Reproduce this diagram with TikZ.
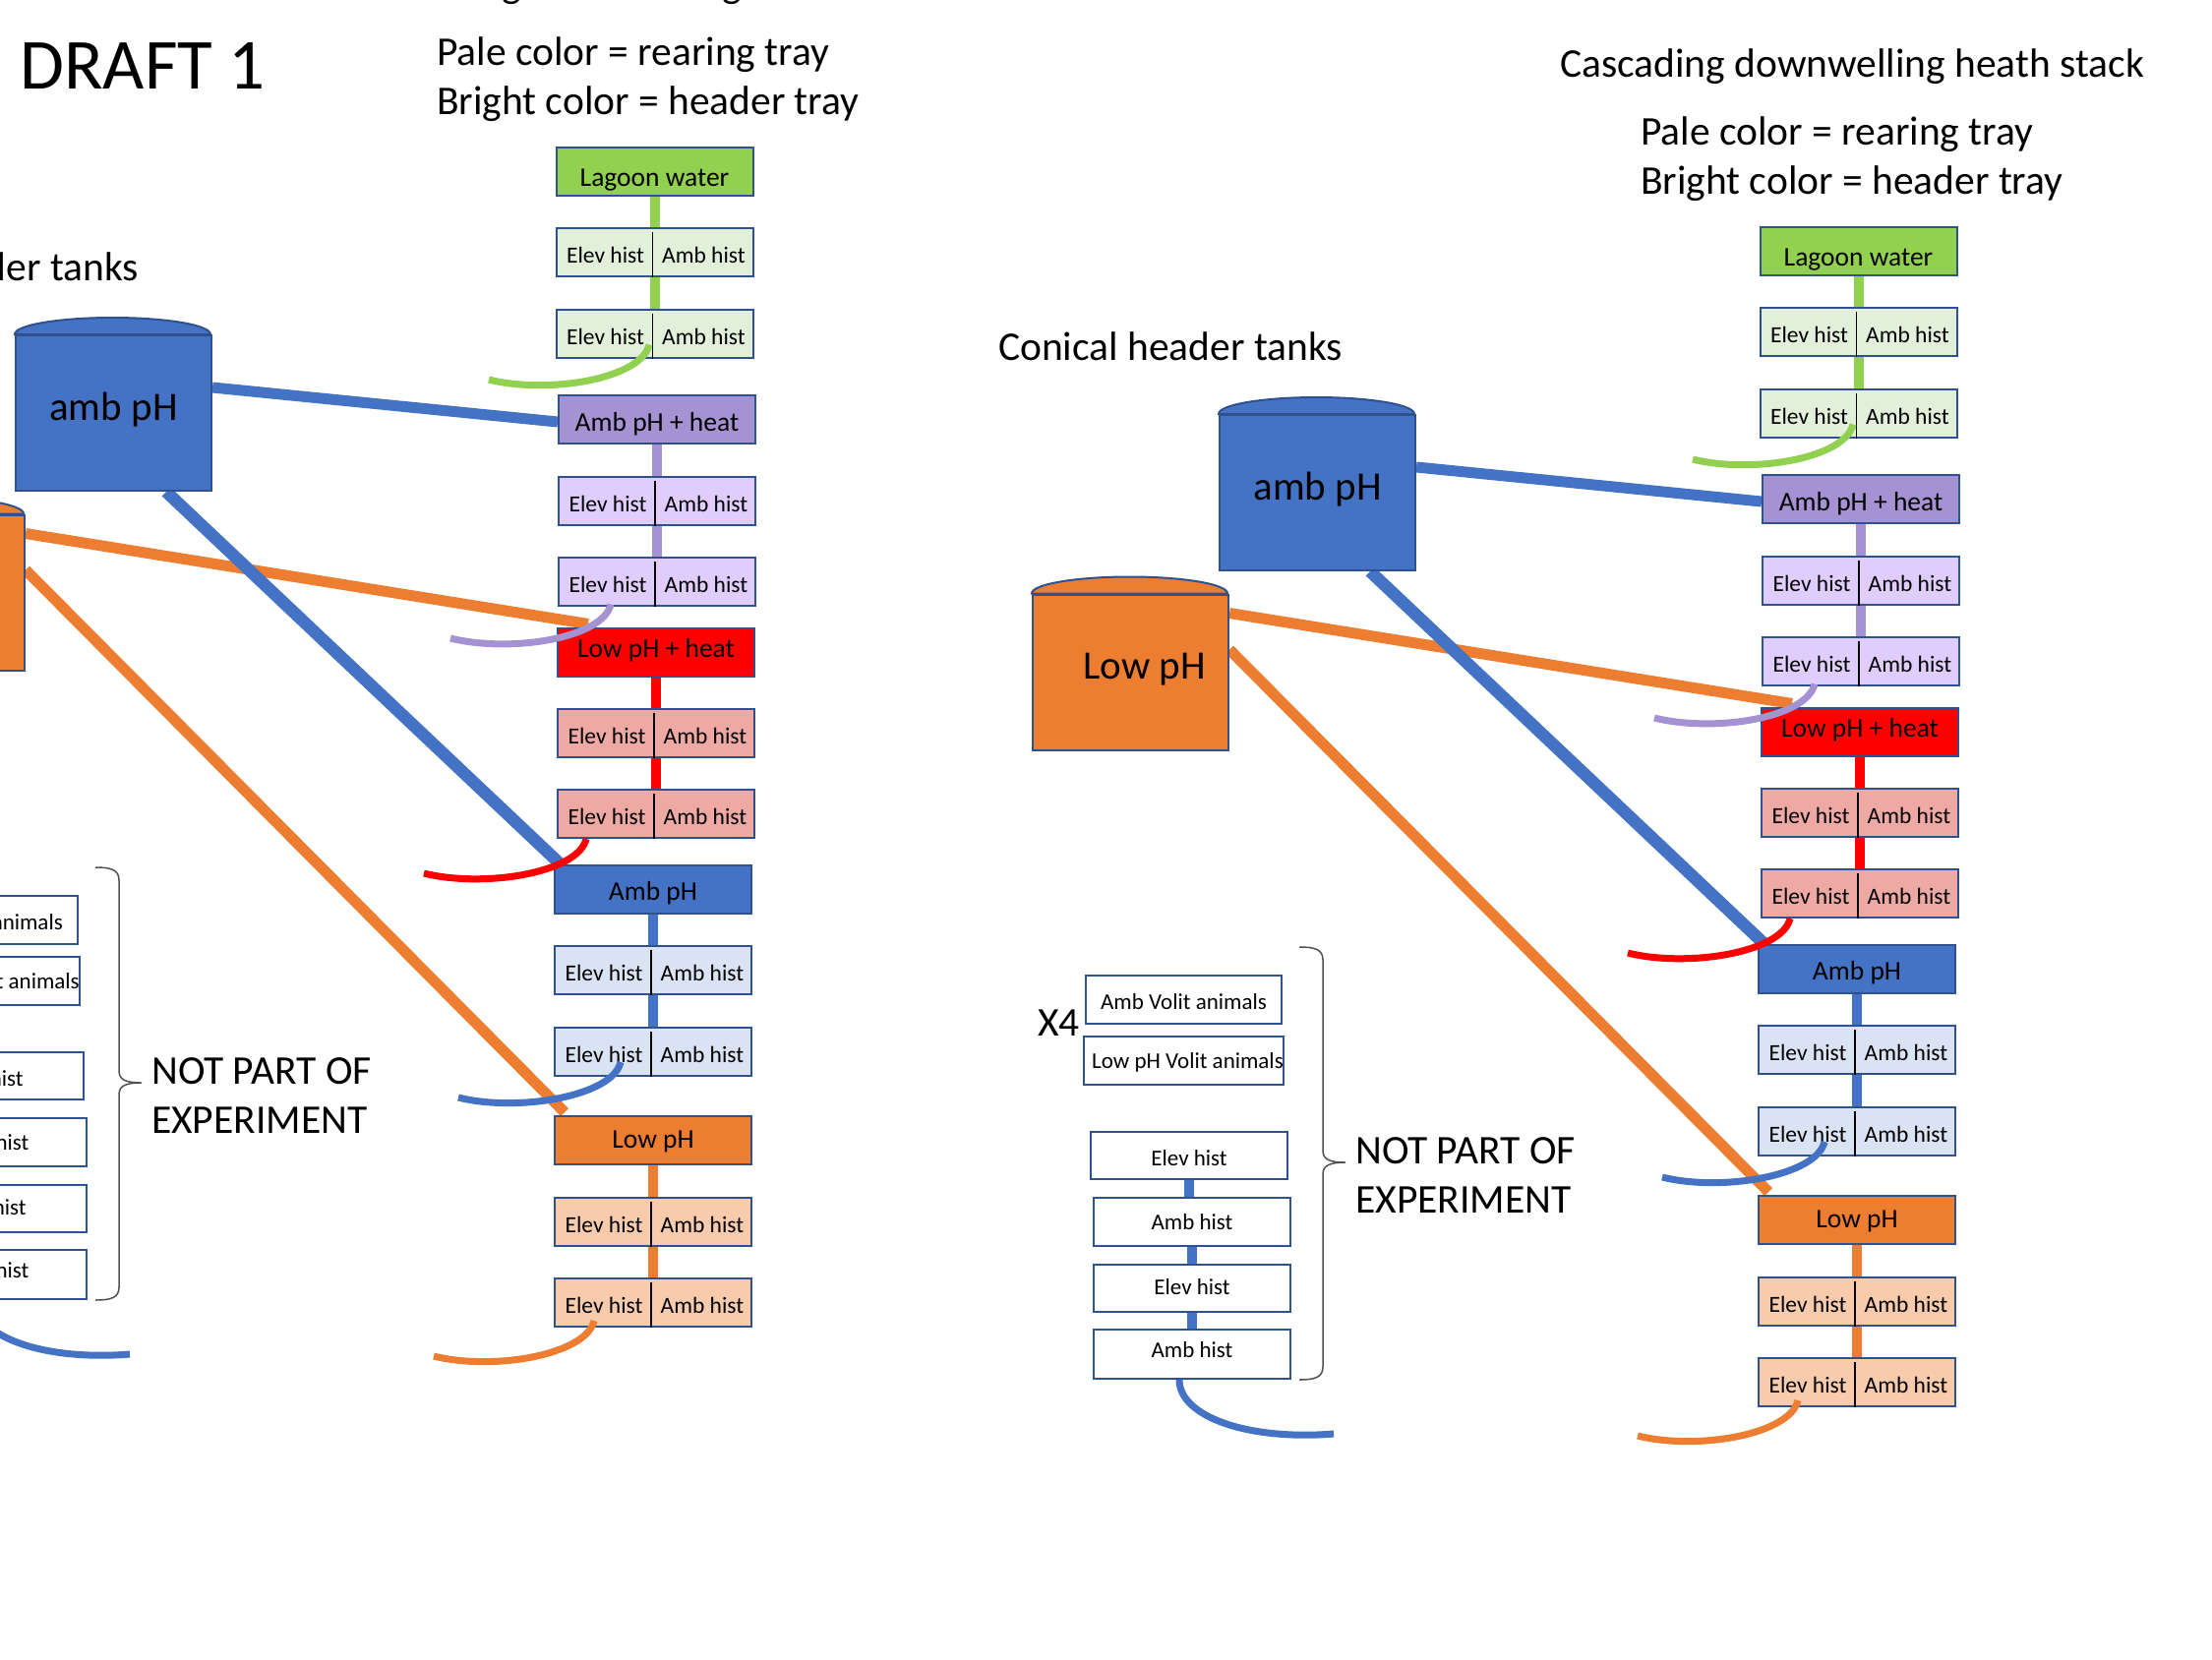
\documentclass[tikz,border=0pt]{standalone}
\usepackage{fontspec}
\setmainfont{Carlito}
\pgfdeclarelayer{back}
\pgfdeclarelayer{bg}
\pgfsetlayers{back,bg,main}
\definecolor{outl}{HTML}{2F528F}
\definecolor{lgreen}{HTML}{92D050}
\definecolor{pgreen}{HTML}{E2EFDA}
\definecolor{lpurple}{RGB}{165,146,210}
\definecolor{ppurple}{RGB}{224,204,253}
\definecolor{lred}{HTML}{FF0000}
\definecolor{pred}{RGB}{239,169,165}
\definecolor{lblue}{HTML}{4472C4}
\definecolor{pblue}{HTML}{DAE3F3}
\definecolor{lorange}{HTML}{ED7D31}
\definecolor{porange}{HTML}{F8CBAD}
\definecolor{bracegray}{HTML}{505050}

\newcommand\elevamb{\makebox[100pt]{Elev hist}\makebox[100pt]{Amb hist}}
\newcommand\bigtxt{\fontsize{41.5}{50}\selectfont}

\tikzset{
  tray/.style={draw=outl, line width=2pt, minimum width=200pt, minimum height=49pt, inner sep=0pt, text depth=0pt},
  header/.style 2 args={tray, fill=#1, text height=#2, font=\fontsize{27.5}{32}\selectfont},
  rear/.style={tray, fill=#1, text height=22pt, font=\fontsize{23.5}{28}\selectfont},
  spare/.style={tray, fill=white, text height=#1, font=\fontsize{23}{28}\selectfont},
  tank/.style 2 args={draw=outl, line width=2pt, fill=#1, minimum width=199pt, minimum height=158pt, inner sep=0pt, text depth=0pt, text height=#2, font=\fontsize{41}{48}\selectfont},
  dome/.style={draw=outl, line width=2pt, fill=#1},
  title/.style={anchor=base west, inner sep=0pt, font=\bigtxt},
  riser/.style={draw=#1, line width=10pt},
  feed/.style={draw=#1, line width=11pt},
  outflow/.style={draw=#1, line width=7pt},
  divider/.style={draw=black, line width=1.8pt},
}

\newcommand\slidebody{%
  \node[title] (ttl) at (1586,78) {Cascading downwelling heath stack};
  \node[title] (pale) at (1668,147) {Pale color = rearing tray};
  \node[title] (bright) at (1668,197) {Bright color = header tray};
  \node[title] (con) at (1015,366) {Conical header tanks};
  % stack of trays
  \node[header={lgreen}{30pt}] (LW) at (1889.5,255) {Lagoon water};
  \node[rear=pgreen] (G1) at (1889.5,337.5) {\elevamb};
  \node[rear=pgreen] (G2) at (1889.5,420) {\elevamb};
  \node[header={lpurple}{24pt}] (AH) at (1892,507) {Amb pH + heat};
  \node[rear=ppurple] (P1) at (1892,590) {\elevamb};
  \node[rear=ppurple] (P2) at (1892,672) {\elevamb};
  \node[header={lred}{10pt}] (LH) at (1891,744) {Low pH + heat};
  \node[rear=pred] (R1) at (1891,826) {\elevamb};
  \node[rear=pred] (R2) at (1891,908.5) {\elevamb};
  \node[header={lblue}{21pt}] (AP) at (1888,985.5) {Amb pH};
  \node[rear=pblue] (B1) at (1888,1067.5) {\elevamb};
  \node[rear=pblue] (B2) at (1888,1150.5) {\elevamb};
  \node[header={lorange}{16pt}] (LP) at (1888,1240.5) {Low pH};
  \node[rear=porange] (O1) at (1888,1323) {\elevamb};
  \node[rear=porange] (O2) at (1888,1405.5) {\elevamb};
  \foreach \n in {G1,G2,P1,P2,R1,R2,B1,B2,O1,O2}
    \draw[divider] ([xshift=-2pt,yshift=-5pt]\n.north) -- ([xshift=-2pt]\n.south);
  % risers
  \draw[riser=lgreen] (LW.south) -- (G1.north);
  \draw[riser=lgreen] (G1.south) -- (G2.north);
  \draw[riser=lpurple] (AH.south) -- (P1.north);
  \draw[riser=lpurple] (P1.south) -- (P2.north);
  \draw[riser=lred] (LH.south) -- (R1.north);
  \draw[riser=lred] (R1.south) -- (R2.north);
  \draw[riser=lblue] (AP.south) -- (B1.north);
  \draw[riser=lblue] (B1.south) -- (B2.north);
  \draw[riser=lorange] (LP.south) -- (O1.north);
  \draw[riser=lorange] (O1.south) -- (O2.north);
  % tanks
  \node[tank={lblue}{14pt}] (ambT) at (1339.5,501) {amb pH};
  \draw[dome=lblue] (ambT.north west) arc[start angle=180,end angle=0,x radius=99.5pt,y radius=17pt] -- cycle;
  \node[tank={lorange}{13pt}] (lowT) at (1149.5,683.5) {\hspace*{28pt}Low pH};
  \draw[dome=lorange] (lowT.north west) arc[start angle=180,end angle=0,x radius=99.5pt,y radius=17pt] -- cycle;
  % feed lines from tanks
  \begin{pgfonlayer}{bg}
    \draw[feed=lorange] ([yshift=-20pt]lowT.north east) -- ([xshift=32pt,yshift=3pt]LH.north west);
    \draw[feed=lorange] ([yshift=-57pt]lowT.north east) -- ([xshift=11pt,yshift=3pt]LP.north west);
    \draw[feed=lblue] ([yshift=-54pt]ambT.north east) -- ([yshift=-3pt]AH.west);
    \draw[feed=lblue, line width=12.5pt] ([xshift=53.5pt]ambT.south) -- ([xshift=7pt]AP.north west);
  \end{pgfonlayer}
  % outflow curves
  \coordinate (gE) at (1721,467);
  \coordinate (pE) at (1682,730);
  \coordinate (rE) at (1655,969);
  \coordinate (bE) at (1690,1197);
  \coordinate (oE) at (1665,1460);
  \draw[outflow=lgreen] ([xshift=-5.5pt,yshift=14pt]G2.south) .. controls +(-8,35) and +(60,15) .. (gE);
  \draw[outflow=lpurple] ([xshift=-47pt,yshift=2pt]P2.south) .. controls +(-8,35) and +(60,15) .. (pE);
  \draw[outflow=lred] ([xshift=-71pt]R2.south) .. controls +(-8,35) and +(60,15) .. (rE);
  \draw[outflow=lblue] ([xshift=-33pt,yshift=15pt]B2.south) .. controls +(-8,35) and +(60,15) .. (bE);
  \draw[outflow=lorange] ([xshift=-60pt,yshift=7pt]O2.south) .. controls +(-8,35) and +(60,15) .. (oE);
  % not part of experiment
  \node[title] (x4) at (1055,1053) {X4};
  \node[spare=19pt, minimum width=199pt] (AV) at (1203.5,1016.5) {Amb Volit animals};
  \node[spare=16pt, minimum width=199pt] (LV) at (1203.5,1078.5) {\hspace*{8pt}Low pH Volit animals};
  \node[spare=21pt, minimum height=48pt] (E1) at (1209,1175) {Elev hist};
  \node[spare=15pt] (A1) at (1212,1242.5) {Amb hist};
  \node[spare=13pt, minimum height=48pt] (E2) at (1212,1310) {Elev hist};
  \node[spare=6pt, minimum height=50pt] (A2) at (1212,1377) {Amb hist};
  \draw[riser=lblue] (E1.south) -- (E1.south |- A1.north);
  \draw[riser=lblue] (A1.south) -- (A1.south |- E2.north);
  \draw[riser=lblue] (E2.south) -- (E2.south |- A2.north);
  \coordinate (sE) at (1356,1458);
  \draw[outflow=lblue] ([xshift=-13pt]A2.south) .. controls +(0,38) and +(-86,7) .. (sE);
  \draw[bracegray, line width=1.5pt] (1321,963) .. controls (1336,963) and (1345,965) .. (1345,976) -- (1345,1170) .. controls (1345,1179) and (1352,1182) .. (1368,1182) .. controls (1352,1182) and (1345,1185) .. (1345,1194) -- (1345,1390) .. controls (1345,1401) and (1336,1403) .. (1321,1403);
  \node[title] (np1) at (1378,1183) {NOT PART OF};
  \node[title] (np2) at (1378,1233) {EXPERIMENT};
}

\begin{document}
\begin{tikzpicture}[x=1pt,y=-1pt]
  \useasboundingbox (0,0) rectangle (2249,1687);
  \begin{pgfonlayer}{back}
    \fill[white] (0,0) rectangle (2249,1687);
  \end{pgfonlayer}
  \begin{scope}[shift={(-1224,-81)}, name prefix=L-]
    \slidebody
  \end{scope}
  \begin{scope}[name prefix=R-]
    \slidebody
  \end{scope}
  \node[anchor=base west, inner sep=0pt, font=\fontsize{73}{80}\selectfont] (draft) at (20,90) {DRAFT 1};
\end{tikzpicture}
\end{document}
